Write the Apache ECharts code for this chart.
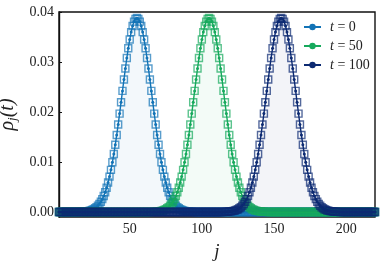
<!DOCTYPE html>
<html><head><meta charset="utf-8">
<script src="https://cdn.jsdelivr.net/npm/echarts@6/dist/echarts.min.js"></script>
<style>html,body{margin:0;padding:0;background:#fff}#c{width:382px;height:261px}</style>
</head><body><div id="c"></div>
<script>
// --- data ---
const seriesNames = ['t = 0', 't = 50', 't = 100'];
const colors = ['#1273b6', '#16a95c', '#0c2a72'];
const jMin = 1, jMax = 220;
const xTicks = [50, 100, 150, 200];
const yTicks = [0, 0.01, 0.02, 0.03, 0.04];
// first j of each non-zero segment (values outside the segment read as 0)
const segStart = [15, 65, 115];
const rho0 = [0.00002,0.00003,0.00004,0.00006,0.00009,0.00012,0.00017,0.00023,0.00031,0.00042,0.00056,0.00074,0.00096,0.00125,0.00160,0.00204,0.00257,0.00321,0.00396,0.00485,0.00589,0.00708,0.00843,0.00994,0.01161,0.01344,0.01541,0.01750,0.01968,0.02194,0.02422,0.02649,0.02870,0.03080,0.03274,0.03449,0.03598,0.03719,0.03808,0.03862,0.03880,0.03862,0.03808,0.03719,0.03598,0.03449,0.03274,0.03080,0.02870,0.02649,0.02422,0.02194,0.01968,0.01750,0.01541,0.01344,0.01161,0.00994,0.00843,0.00708,0.00589,0.00485,0.00396,0.00321,0.00257,0.00204,0.00160,0.00125,0.00096,0.00074,0.00056,0.00042,0.00031,0.00023,0.00017,0.00012,0.00009,0.00006,0.00004,0.00003,0.00002];
const rho50 = [0.00002,0.00003,0.00004,0.00006,0.00009,0.00012,0.00017,0.00023,0.00031,0.00042,0.00056,0.00074,0.00096,0.00125,0.00160,0.00204,0.00257,0.00321,0.00396,0.00485,0.00589,0.00708,0.00843,0.00994,0.01161,0.01344,0.01541,0.01750,0.01968,0.02194,0.02422,0.02649,0.02870,0.03080,0.03274,0.03449,0.03598,0.03719,0.03808,0.03862,0.03880,0.03862,0.03808,0.03719,0.03598,0.03449,0.03274,0.03080,0.02870,0.02649,0.02422,0.02194,0.01968,0.01750,0.01541,0.01344,0.01161,0.00994,0.00843,0.00708,0.00589,0.00485,0.00396,0.00321,0.00257,0.00204,0.00160,0.00125,0.00096,0.00074,0.00056,0.00042,0.00031,0.00023,0.00017,0.00012,0.00009,0.00006,0.00004,0.00003,0.00002];
const rho100 = [0.00002,0.00003,0.00004,0.00006,0.00009,0.00012,0.00017,0.00023,0.00031,0.00042,0.00056,0.00074,0.00096,0.00125,0.00160,0.00204,0.00257,0.00321,0.00396,0.00485,0.00589,0.00708,0.00843,0.00994,0.01161,0.01344,0.01541,0.01750,0.01968,0.02194,0.02422,0.02649,0.02870,0.03080,0.03274,0.03449,0.03598,0.03719,0.03808,0.03862,0.03880,0.03862,0.03808,0.03719,0.03598,0.03449,0.03274,0.03080,0.02870,0.02649,0.02422,0.02194,0.01968,0.01750,0.01541,0.01344,0.01161,0.00994,0.00843,0.00708,0.00589,0.00485,0.00396,0.00321,0.00257,0.00204,0.00160,0.00125,0.00096,0.00074,0.00056,0.00042,0.00031,0.00023,0.00017,0.00012,0.00009,0.00006,0.00004,0.00003,0.00002];
const segments = [rho0, rho50, rho100];

// --- build ---
function fullData(k) {
  const out = [];
  for (let j = jMin; j <= jMax; j++) {
    const i = j - segStart[k];
    const v = (i >= 0 && i < segments[k].length) ? segments[k][i] : 0;
    out.push([j, v]);
  }
  return out;
}
const FONT = 'Liberation Serif';
const series = [];
for (let k = 0; k < 3; k++) {
  const d = fullData(k);
  series.push({
    type: 'scatter', name: seriesNames[k] + ' sq', data: d, symbol: 'rect', symbolSize: 7,
    itemStyle: { color: 'rgba(0,0,0,0)', borderColor: colors[k], borderWidth: 1.4, opacity: 0.7 },
    z: 2 + k * 2, silent: true, emphasis: { disabled: true }
  });
  series.push({
    type: 'line', name: seriesNames[k], data: d, symbol: 'circle', symbolSize: 3, showAllSymbol: true,
    lineStyle: { color: colors[k], width: 1.4 }, itemStyle: { color: colors[k] },
    areaStyle: { color: colors[k], opacity: 0.05 },
    z: 3 + k * 2, silent: true, emphasis: { disabled: true }, animation: false
  });
}
const chart = echarts.init(document.getElementById('c'), null, { renderer: 'canvas' });
chart.setOption({
  animation: false,
  backgroundColor: '#fff',
  grid: { left: 59, right: 7, top: 12, bottom: 44, containLabel: false, outerBoundsMode: 'none',
    show: true, borderColor: '#111', borderWidth: 1.4, backgroundColor: 'transparent' },
  legend: {
    data: seriesNames, orient: 'vertical', left: 303, top: 20, padding: 0, itemGap: 5,
    itemWidth: 17, itemHeight: 8,
    formatter: n => '{i|t}{r|' + n.slice(1) + '}',
    textStyle: { fontFamily: FONT, fontSize: 14, color: '#222', lineHeight: 14,
      rich: { i: { fontFamily: FONT, fontStyle: 'italic', fontSize: 14, color: '#222', padding: [0, 0, 0, 4] },
              r: { fontFamily: FONT, fontSize: 14, color: '#222' } } }
  },
  xAxis: {
    type: 'value', min: jMin, max: jMax,
    name: 'j', nameLocation: 'middle', nameGap: 25,
    nameTextStyle: { fontFamily: FONT, fontStyle: 'italic', fontSize: 19, color: '#222' },
    axisLine: { show: true, lineStyle: { color: '#111', width: 1.4 } },
    axisTick: { show: true, inside: true, length: 3, customValues: xTicks, lineStyle: { color: '#111' } },
    axisLabel: { customValues: xTicks, fontFamily: FONT, fontSize: 14, color: '#222', margin: 5 },
    splitLine: { show: false }
  },
  yAxis: {
    type: 'value', min: -0.001, max: 0.04,
    name: '{a|ρ}{s|j}{a|(t)}', nameLocation: 'middle', nameGap: 40, nameRotate: 90,
    nameTextStyle: { color: '#222',
      rich: { a: { fontFamily: FONT, fontStyle: 'italic', fontSize: 20, lineHeight: 22, color: '#222' },
              s: { fontFamily: FONT, fontStyle: 'italic', fontSize: 13, lineHeight: 13, verticalAlign: 'bottom', color: '#222' } } },
    axisLine: { show: true, lineStyle: { color: '#111', width: 1.4 } },
    axisTick: { show: true, inside: true, length: 3, customValues: yTicks, lineStyle: { color: '#111' } },
    axisLabel: { customValues: yTicks, formatter: v => v.toFixed(2), fontFamily: FONT, fontSize: 14, color: '#222', margin: 5 },
    splitLine: { show: false }
  },
  series: series
});
</script></body></html>
